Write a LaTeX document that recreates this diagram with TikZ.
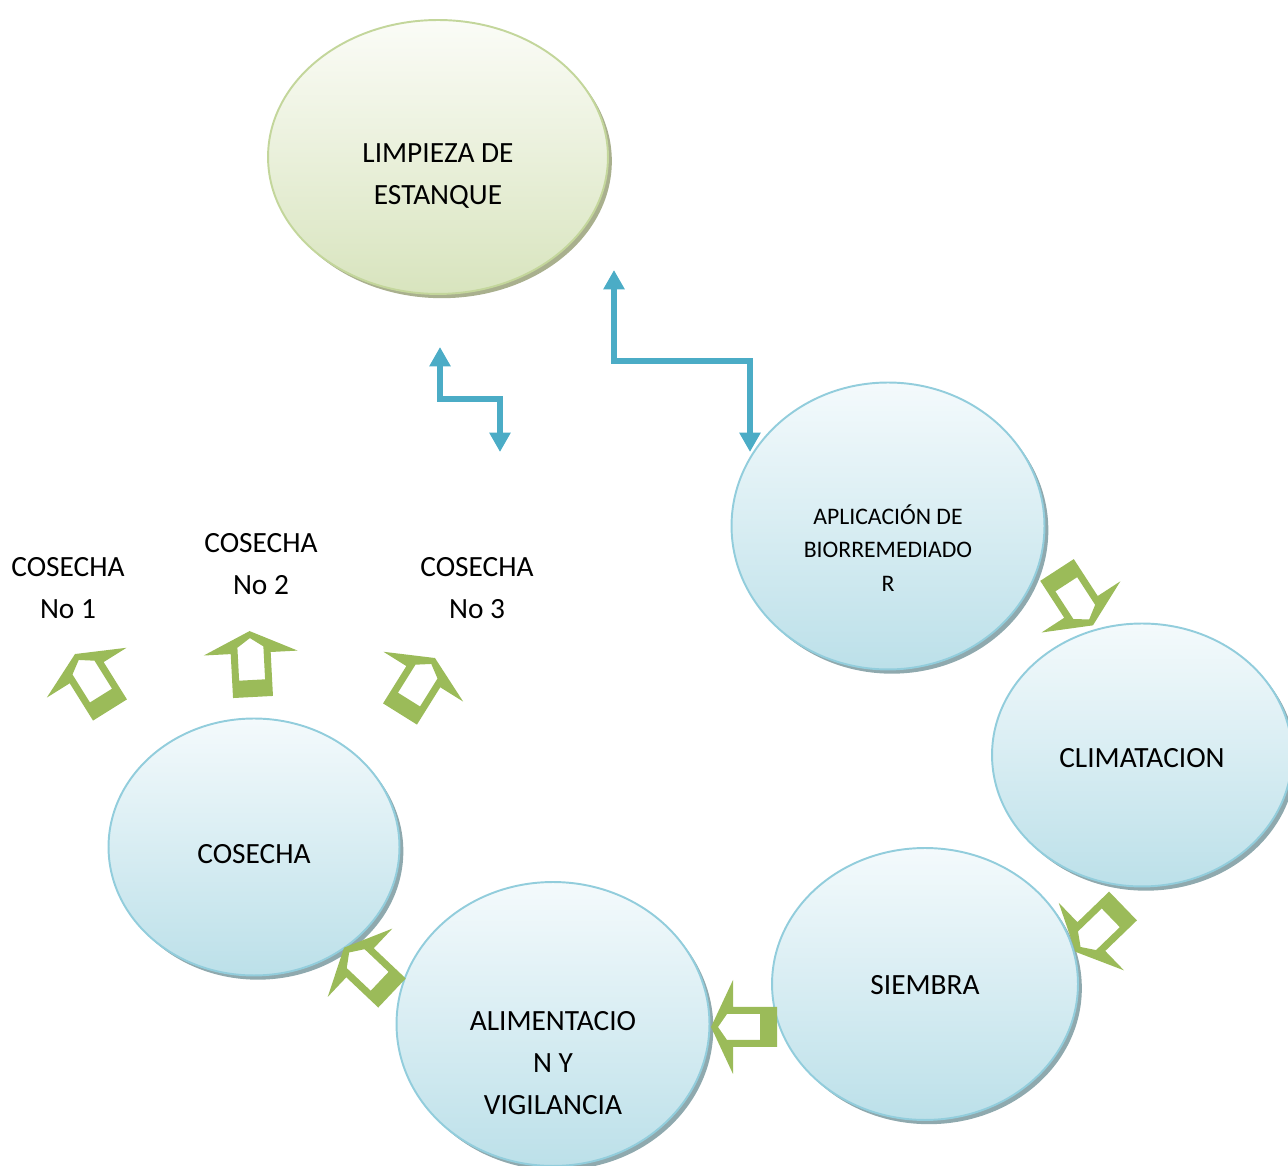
\documentclass[tikz,border=0pt]{standalone}
\usepackage{fontspec}
\setmainfont{Carlito}
\usetikzlibrary{shapes.geometric,shadows,arrows.meta}
\definecolor{bluefill}{HTML}{BCE0E9}
\definecolor{bluetop}{HTML}{F4FAFC}
\definecolor{blueline}{HTML}{92CDDC}
\definecolor{blueshadow}{HTML}{8FA9AE}
\definecolor{greenfill}{HTML}{D8E4BE}
\definecolor{greentop}{HTML}{FBFCF7}
\definecolor{greenline}{HTML}{C3D69B}
\definecolor{greenshadow}{HTML}{A9B08E}
\definecolor{arrowblue}{HTML}{4BACC6}
\definecolor{arrowgreen}{HTML}{9BBB59}
\tikzset{
  bluebubble/.style={ellipse, draw=blueline, line width=1.1pt, top color=bluetop, bottom color=bluefill,
    drop shadow={shadow xshift=2.2pt, shadow yshift=-2.4pt, fill=blueshadow, opacity=1}},
  greenbubble/.style={ellipse, draw=greenline, line width=1.1pt, top color=greentop, bottom color=greenfill,
    drop shadow={shadow xshift=2.2pt, shadow yshift=-2.4pt, fill=greenshadow, opacity=1}},
  bigtext/.style={align=center, font=\fontsize{16.7}{23.8}\selectfont, inner sep=0pt},
  smalltext/.style={align=center, font=\fontsize{13.5}{19}\selectfont, inner sep=0pt},
  elbow/.style={draw=arrowblue, line width=3.4pt, {Triangle[width=11.5pt,length=11pt]}-{Triangle[width=11.5pt,length=11pt]}},
  blockarrow/.style={fill=arrowgreen, even odd rule}
}
\newcommand{\greenarrow}[3]{%
  \begin{scope}[shift={(#1,#2)}, rotate=#3]
    \fill[blockarrow] (-20,0) -- (20,0) -- (20,44) -- (47,44) -- (0,66) -- (-47,44) -- (-20,44) -- cycle
      (-13,17) -- (13,17) -- (13,50) -- (0,59) -- (-13,50) -- cycle;
  \end{scope}}
\begin{document}
\begin{tikzpicture}[x=0.02cm, y=0.02cm]
\useasboundingbox (0,0) rectangle (1288,1166);
\clip (0,0) rectangle (1288,1166);
% bubbles
\node[greenbubble, minimum width=6.8cm, minimum height=5.48cm] (limp) at (438,1009) {};
\node[bluebubble, minimum width=6.26cm, minimum height=5.74cm] (apli) at (888,640) {};
\node[bluebubble, minimum width=6.0cm, minimum height=5.26cm] (clim) at (1142,411) {};
\node[bluebubble, minimum width=6.12cm, minimum height=5.44cm] (siem) at (925,182) {};
\node[bluebubble, minimum width=6.26cm, minimum height=5.68cm] (alim) at (553,142) {};
\node[bluebubble, minimum width=5.82cm, minimum height=5.14cm] (cose) at (254,319) {};
% texts
\node[bigtext] (limptxt) at (438,990) {LIMPIEZA DE\\ESTANQUE};
\node[smalltext] (aplitxt) at (888,618) {APLICACIÓN DE\\BIORREMEDIADO\\R};
\node[bigtext] (climtxt) at (1142,408) {CLIMATACION};
\node[bigtext] (siemtxt) at (925,181) {SIEMBRA};
\node[bigtext] (alimtxt) at (553,103) {ALIMENTACIO\\N Y\\VIGILANCIA};
\node[bigtext] (cosetxt) at (254,312) {COSECHA};
\node[bigtext] (c1) at (68,578) {COSECHA\\No 1};
\node[bigtext] (c2) at (261,602) {COSECHA\\No 2};
\node[bigtext] (c3) at (477,578) {COSECHA\\No 3};
% blue elbow arrows
\coordinate (s1) at (440,819);
\coordinate (s2) at (500,714);
\draw[elbow] (s1) -- (440,767) -- (500,767) -- (s2);
\coordinate (b1) at (614,896);
\coordinate (b2) at (750,714);
\draw[elbow] (b1) -- (614,805) -- (750,805) -- (b2);
% green block arrows
\greenarrow{1057}{596}{-147}
\greenarrow{1123}{260}{134}
\greenarrow{777}{139}{90}
\greenarrow{392}{173}{46.6}
\greenarrow{110}{456}{32}
\greenarrow{253}{469}{3}
\greenarrow{400}{452}{-32}
\end{tikzpicture}
\end{document}
